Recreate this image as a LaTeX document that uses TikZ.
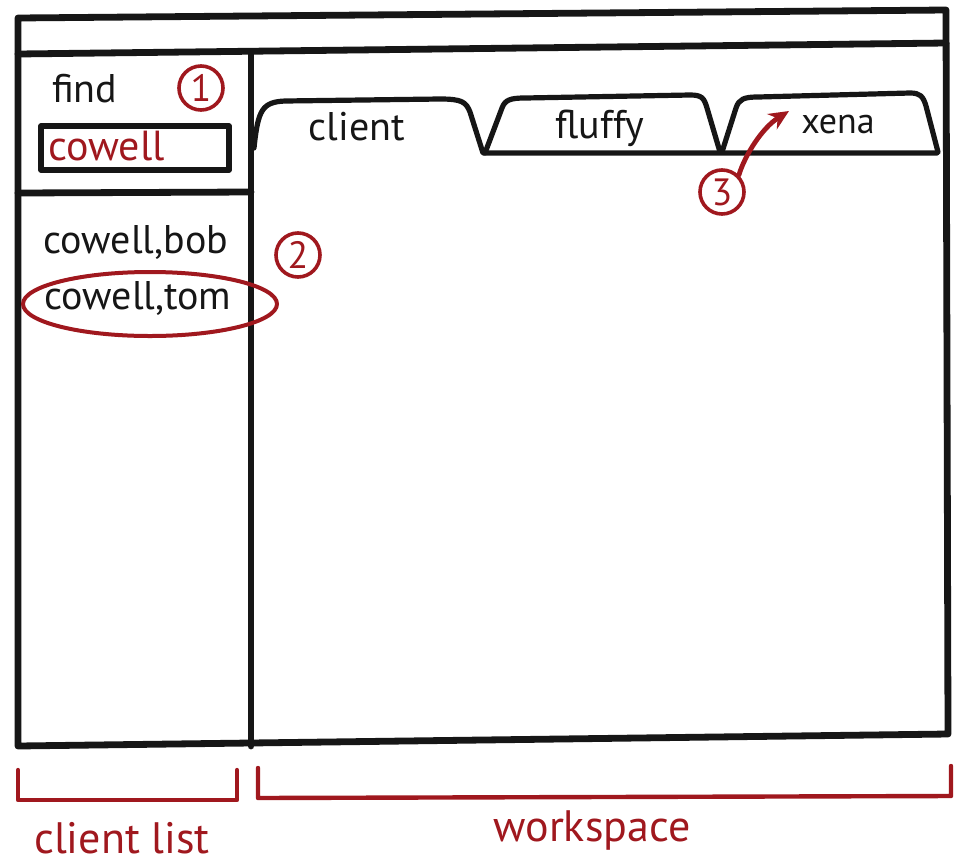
\documentclass[tikz,border=0pt]{standalone}
\usepackage{fontspec}
\setmainfont{PT Sans}
\usetikzlibrary{arrows.meta,shapes.geometric}
\definecolor{ink}{RGB}{22,22,22}
\definecolor{pen}{RGB}{160,24,30}

\begin{document}
\begin{tikzpicture}[x=0.5pt,y=-0.5pt,line join=round,line cap=round,
  frame/.style={draw=ink,line width=3.4pt},
  tabline/.style={draw=ink,line width=2.6pt},
  numcircle/.style={circle,draw=pen,line width=1.8pt,text=pen,inner sep=0pt,
    minimum size=22pt,font=\fontsize{19}{19}\selectfont},
  hand/.style={text=ink,inner sep=0pt,font=\fontsize{20}{20}\selectfont},
  redhand/.style={text=pen,inner sep=0pt,font=\fontsize{21}{21}\selectfont},
  bracket/.style={draw=pen,line width=2.2pt}]
\useasboundingbox[fill=white] (0,0) rectangle (959,863);

% outer window frame with header bar
\coordinate (tl) at (18,18);
\coordinate (tr) at (946,10);
\coordinate (br) at (948,734);
\coordinate (bl) at (18,746);
\draw[frame] (tl) -- (tr) -- (br) -- (bl) -- cycle;
\coordinate (hl) at (18,54);
\coordinate (hr) at (946,43);
\draw[frame] (hl) -- (hr);

% divider between client list and workspace
\coordinate (dt) at (251,53);
\coordinate (db) at (251,746);
\draw[frame] (dt) -- (db);

% left panel: search area separator
\coordinate (sl) at (18,193);
\coordinate (sr) at (251,192);
\draw[frame] (sl) -- (sr);

% search field
\node[hand,anchor=base west] (find) at (52,102) {find};
\node[draw=ink,line width=2.8pt,minimum width=94pt,minimum height=22pt,
  inner sep=0pt] (search) at (135,148) {};
\node[redhand,anchor=base west] (query) at (48,160) {cowell};
\node[numcircle] (n1) at (201,88) {1};

% result list
\node[hand] (bob) at (136,242) {cowell,bob};
\node[hand] (tom) at (138,298) {cowell,tom};
\node[ellipse,draw=pen,line width=2pt,minimum width=127pt,minimum height=32pt,
  inner sep=0pt] (sel) at (150,304) {};
\node[numcircle] (n2) at (298,255) {2};

% tabs of the workspace
\draw[tabline] (254,148) .. controls (258,110) and (262,102) .. (285,101)
  -- (440,99) .. controls (462,99) and (466,102) .. (470,112) -- (483,153)
  -- (937,153);
\draw[tabline] (485,153) -- (502,108) .. controls (505,100) and (510,98) .. (525,98)
  -- (690,95) .. controls (702,95) and (704,98) .. (707,108) -- (720,152);
\draw[tabline] (722,152) -- (736,108) .. controls (739,99) and (744,97) .. (758,97)
  -- (910,93) .. controls (920,93) and (923,96) .. (926,106) -- (938,152);
\node[hand] (tclient) at (357,127) {client};
\node[hand] (tfluffy) at (600,128) {fluffy};
\node[hand,font=\fontsize{18}{18}\selectfont] (txena) at (838,124) {xena};

% callout 3 pointing at a tab
\node[numcircle] (n3) at (722,192) {3};
\coordinate (tip) at (789,111);
\draw[pen,line width=2.4pt,-{Stealth[length=10pt,width=9pt]}]
  (n3.north east) .. controls (745,155) and (762,128) .. (tip);

% labels under the window
\coordinate (b1a) at (18,770);
\coordinate (b1b) at (18,800);
\coordinate (b1c) at (237,800);
\coordinate (b1d) at (237,770);
\draw[bracket] (b1a) -- (b1b) -- (b1c) -- (b1d);
\coordinate (b2a) at (258,768);
\coordinate (b2b) at (258,798);
\coordinate (b2c) at (951,796);
\coordinate (b2d) at (951,766);
\draw[bracket] (b2a) -- (b2b) -- (b2c) -- (b2d);
\node[redhand,font=\fontsize{22}{22}\selectfont] (lclient) at (122,838) {client list};
\node[redhand,font=\fontsize{22}{22}\selectfont] (lwork) at (592,830) {workspace};
\end{tikzpicture}
\end{document}
